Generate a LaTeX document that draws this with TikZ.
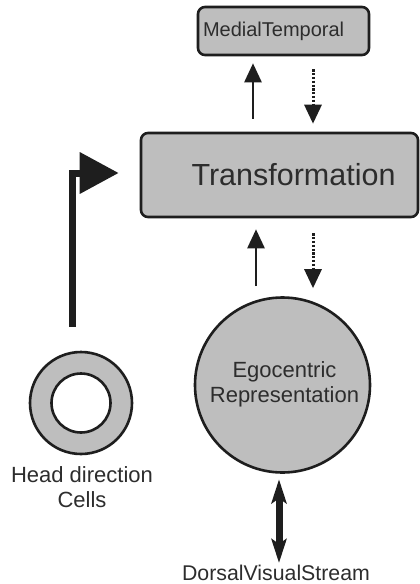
\documentclass[tikz,border=0pt]{standalone}
\usepackage{fontspec}
\setmainfont{Liberation Sans}
\usetikzlibrary{arrows.meta}
\definecolor{boxfill}{RGB}{190,190,190}
\definecolor{ink}{RGB}{30,30,30}
\definecolor{txt}{RGB}{45,45,45}
\begin{document}
\begin{tikzpicture}[x=1pt,y=-1pt,
  boxshape/.style={draw=ink,line width=2.6pt,fill=boxfill,rounded corners=7pt,inner sep=0pt},
  roundshape/.style={draw=ink,line width=2.6pt,fill=boxfill,circle,inner sep=0pt},
  labeltext/.style={text=txt,inner sep=0pt,align=center},
  solidarrow/.style={draw=ink,line width=2.6pt,-{Triangle[length=19pt,width=17pt]}},
  dasharrow/.style={draw=ink,line width=3pt,dash pattern=on 2.2pt off 1.6pt,-{Triangle[length=19pt,width=17pt,sep=0pt]}},
  font=\fontsize{22pt}{25pt}\selectfont]
\useasboundingbox (0,0) rectangle (420,584);
\fill[white] (0,0) rectangle (420,584);

% Medial temporal box
\node[boxshape,minimum width=171pt,minimum height=48pt,text width=161pt,inner xsep=5pt,align=left,text=txt,
  font=\fontsize{20pt}{22pt}\selectfont] (mt) at (283.5,31) {MedialTemporal};

% Transformation box
\node[boxshape,minimum width=277pt,minimum height=84pt] (trans) at (279.5,175) {};
\node[labeltext,font=\fontsize{30.5pt}{33pt}\selectfont] (transtext) at ([xshift=14pt]trans.center) {Transformation};

% Egocentric representation
\node[roundshape,minimum size=175pt] (ego) at (282.5,385) {};
\node[labeltext] (egotext) at ([xshift=2pt,yshift=1pt]ego.center) {Egocentric\\Representation};

% Head direction cells ring
\node[roundshape,minimum size=102pt] (hd) at (81,403) {};
\node[draw=ink,line width=2.6pt,fill=white,circle,inner sep=0pt,minimum size=59pt] (hdin) at (hd.center) {};
\node[labeltext,anchor=north] (hdtext) at (82,466) {Head direction\\Cells};

% Dorsal visual stream
\node[labeltext,anchor=base,font=\fontsize{21.3pt}{24pt}\selectfont] (dvs) at (276,580) {DorsalVisualStream};
\coordinate (dvstop) at (279,563);

% arrows between Transformation and MedialTemporal
\draw[solidarrow] ([xshift=-26.5pt,yshift=13pt]trans.north) -- ([xshift=-30.5pt,yshift=-7pt]mt.south);
\draw[dasharrow] ([xshift=29.5pt,yshift=-13pt]mt.south) -- ([xshift=33.5pt,yshift=8pt]trans.north);

% arrows between Egocentric and Transformation
\draw[solidarrow] ([xshift=-26.5pt,yshift=10pt]ego.north) -- ([xshift=-23.5pt,yshift=-11pt]trans.south);
\draw[dasharrow] ([xshift=33.5pt,yshift=-15pt]trans.south) -- ([xshift=30.5pt,yshift=8pt]ego.north);

% head direction to transformation
\draw[draw=ink,line width=7pt,line join=miter,-{Triangle[length=39pt,width=40pt]}]
  ([xshift=-8.5pt,yshift=24pt]hd.north) |- ([xshift=-21pt,yshift=2pt]trans.west);

% double arrow egocentric <-> dorsal visual stream
\draw[draw=ink,line width=7pt,{Stealth[length=24pt,width=15pt,inset=5pt]}-{Stealth[length=24pt,width=15pt,inset=5pt]}]
  ([xshift=-3.5pt,yshift=-5.5pt]ego.south) -- (dvstop);
\end{tikzpicture}
\end{document}
